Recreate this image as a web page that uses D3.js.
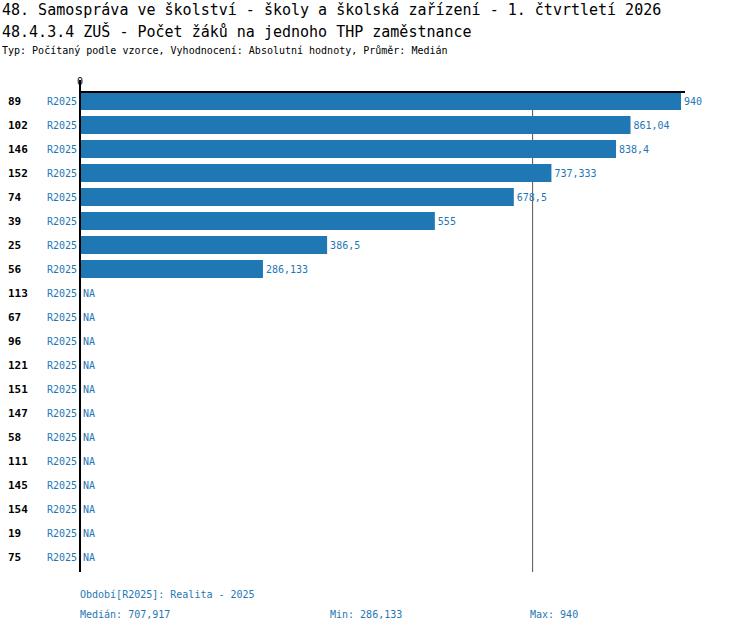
<!DOCTYPE html>
<html lang="cs">
<head>
<meta charset="UTF-8">
<title>ZUŠ – Počet žáků na jednoho THP zaměstnance</title>
<style>
  html, body { margin: 0; background: #fff; }
  svg { display: block; font-family: "DejaVu Sans Mono", monospace; }
</style>
</head>
<body>
<svg id="chart" width="750" height="632"></svg>
<script src="https://cdn.jsdelivr.net/npm/d3@7"></script>
<script>
const categories = ['89', '102', '146', '152', '74', '39', '25', '56', '113', '67', '96', '121', '151', '147', '58', '111', '145', '154', '19', '75']
const values = [940, 861.04, 838.4, 737.333, 678.5, 555, 386.5, 286.133, null, null, null, null, null, null, null, null, null, null, null, null]
const labels = ['940', '861,04', '838,4', '737,333', '678,5', '555', '386,5', '286,133']
const period = 'R2025'
const median = 707.917
const blue = '#1f77b4'

const svg = d3.select('#chart')

svg.append('text').attr('x', 2).attr('y', 15).attr('font-size', 15).text('48. Samospráva ve školství - školy a školská zařízení - 1. čtvrtletí 2026')
svg.append('text').attr('x', 2).attr('y', 37).attr('font-size', 15).text('48.4.3.4 ZUŠ - Počet žáků na jednoho THP zaměstnance')
svg.append('text').attr('x', 2).attr('y', 54).attr('font-size', 10).text('Typ: Počítaný podle vzorce, Vyhodnocení: Absolutní hodnoty, Průměr: Medián')

const x = d3.scaleLinear().domain([0, 940]).range([80, 681])
const y = d3.scaleBand().domain(categories).range([89, 569]).paddingInner(0.25).paddingOuter(0.125)

// median line
svg.append('line').attr('x1', x(median)).attr('x2', x(median)).attr('y1', 92).attr('y2', 572)
  .attr('stroke', '#555').attr('stroke-width', 1)

svg.append('text').attr('x', x(0)).attr('y', 85).attr('font-size', 10).attr('text-anchor', 'middle').text('0')

const rows = svg.append('g').selectAll('g').data(categories).join('g')
rows.append('text').attr('x', 8).attr('y', d => y(d) + y.bandwidth() / 2 + 4)
  .attr('font-size', 11).attr('font-weight', 'bold').text(d => d)
rows.append('text').attr('x', 77).attr('y', d => y(d) + y.bandwidth() / 2 + 4)
  .attr('font-size', 10).attr('fill', blue).attr('text-anchor', 'end').text(period)

rows.filter((d, i) => values[i] != null).append('rect')
  .attr('x', x(0)).attr('y', d => y(d))
  .attr('width', d => x(values[categories.indexOf(d)]) - x(0))
  .attr('height', y.bandwidth()).attr('fill', blue)

rows.append('text').attr('x', d => {
    const v = values[categories.indexOf(d)]
    return (v == null ? x(0) : x(v)) + 3
  })
  .attr('y', d => y(d) + y.bandwidth() / 2 + 4)
  .attr('font-size', 10).attr('fill', blue)
  .text(d => {
    const i = categories.indexOf(d)
    return values[i] == null ? 'NA' : labels[i]
  })

// axes
svg.append('line').attr('x1', 80).attr('x2', 685).attr('y1', 92).attr('y2', 92).attr('stroke', '#000').attr('stroke-width', 2)
svg.append('line').attr('x1', 80).attr('x2', 80).attr('y1', 80).attr('y2', 572).attr('stroke', '#000').attr('stroke-width', 2)

// footer
const foot = svg.append('g').attr('font-size', 10).attr('fill', blue)
foot.append('text').attr('x', 80).attr('y', 598).text('Období[R2025]: Realita - 2025')
foot.append('text').attr('x', 80).attr('y', 618).text('Medián: 707,917')
foot.append('text').attr('x', 330).attr('y', 618).text('Min: 286,133')
foot.append('text').attr('x', 530).attr('y', 618).text('Max: 940')
</script>
</body>
</html>
